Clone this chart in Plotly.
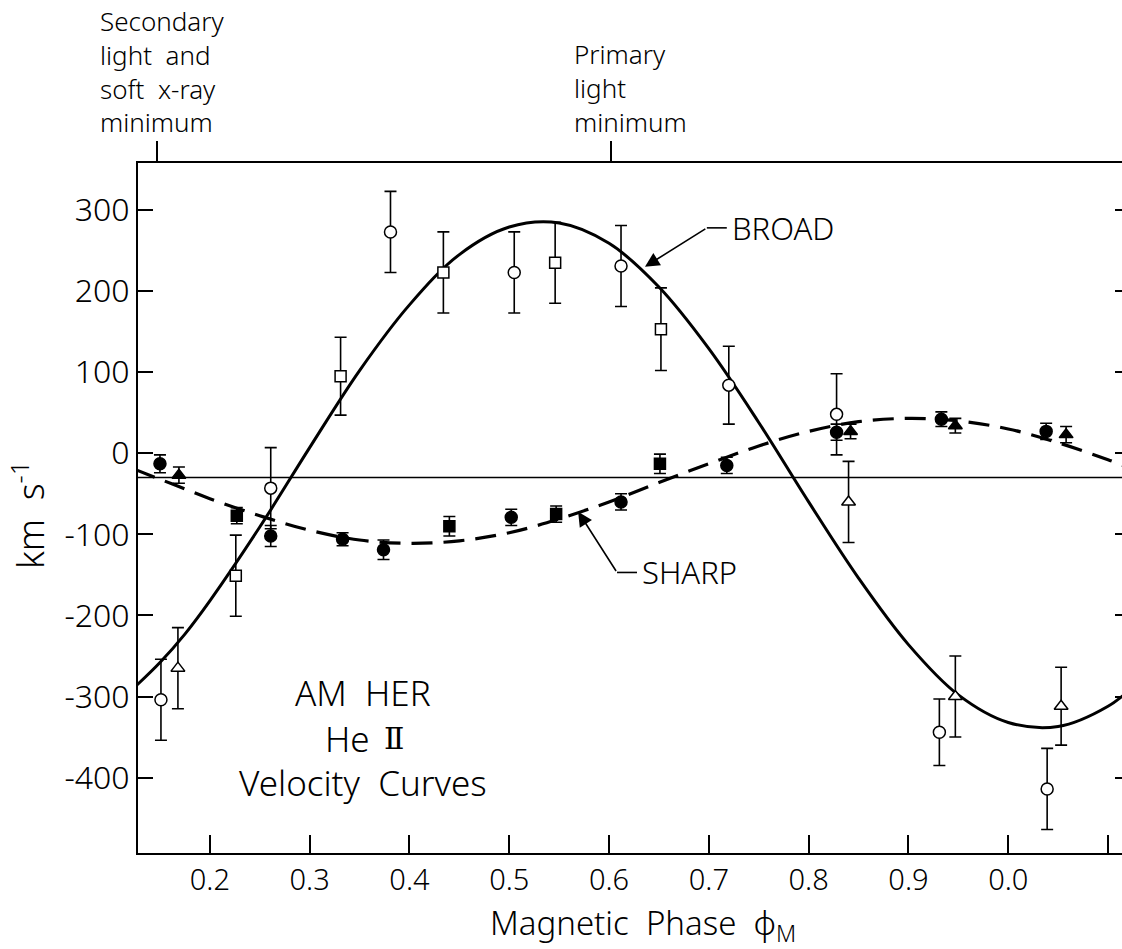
import plotly.graph_objects as go

# ---------------- data ----------------
# BROAD component (open symbols)
broad_circ_phase = [0.151, 0.261, 0.381, 0.505, 0.612, 0.720, 0.828, 0.931, 1.039]
broad_circ_vel = [-304, -43, 273, 223, 231, 84, 48, -344, -414]
broad_circ_err = [50, 50, 50, 50, 50, 48, 50, 41, 50]

broad_sq_phase = [0.226, 0.331, 0.434, 0.546, 0.652]
broad_sq_vel = [-151, 95, 223, 235, 153]
broad_sq_err = [50, 48, 50, 50, 51]

broad_tri_phase = [0.168, 0.840, 0.947, 1.053]
broad_tri_vel = [-265, -60, -300, -312]
broad_tri_err = [50, 50, 50, 48]

# SHARP component (filled symbols)
sharp_circ_phase = [0.150, 0.261, 0.333, 0.374, 0.502, 0.612, 0.718, 0.828, 0.933, 1.038]
sharp_circ_vel = [-13, -102, -106, -119, -79, -60, -15, 26, 42, 27]
sharp_circ_err = [11, 13, 8, 12, 10, 10, 10, 10, 9, 10]

sharp_sq_phase = [0.227, 0.440, 0.547, 0.651]
sharp_sq_vel = [-77, -90, -75, -13]
sharp_sq_err = [10, 12, 10, 12]

sharp_tri_phase = [0.169, 0.842, 0.947, 1.058]
sharp_tri_vel = [-27, 27, 34, 23]
sharp_tri_err = [10, 9, 9, 10]

# fitted curves
curve_phase = [0.125, 0.15, 0.175, 0.2, 0.25, 0.3, 0.35, 0.4, 0.45, 0.5, 0.55, 0.6,
               0.65, 0.7, 0.75, 0.8, 0.85, 0.9, 0.95, 1.0, 1.05, 1.1, 1.125]
broad_curve = [-288, -258, -223, -182, -91, 7, 102, 183, 245, 279, 284, 259,
               205, 129, 38, -60, -154, -236, -298, -332, -337, -312, -288]
sharp_curve = [-20, -32, -44, -56, -77, -95, -107, -111, -108, -98, -81, -60,
               -36, -13, 9, 27, 39, 43, 40, 30, 13, -8, -20]

gamma_velocity = -30

tick_phase = [0.2, 0.3, 0.4, 0.5, 0.6, 0.7, 0.8, 0.9, 1.0, 1.1]
tick_phase_text = ["0.2", "0.3", "0.4", "0.5", "0.6", "0.7", "0.8", "0.9", "0.0", "0.1"]
tick_vel = [300, 200, 100, 0, -100, -200, -300, -400]
tick_vel_text = ["300", "200", "100", "0", "-100", "-200", "-300", "-400"]
event_phase = [0.147, 0.602]   # secondary / primary light minimum markers

secondary_lines = ["Secondary", "light  and", "soft  x-ray", "minimum"]
primary_lines = ["Primary", "light", "minimum"]

# ---------------- layout geometry ----------------
W, H = 1122, 949
L, R, T, B = 138, 0, 163, 96
XR = [0.128, 1.114]
YR = [-493, 358]
FONT = "Noto Sans, DejaVu Sans, sans-serif"
WT = 300
INK = "black"


def px(xp):
    return (xp - L) / (W - L - R)


def py(yp):
    return (H - B - yp) / (H - B - T)


def f(size, family=FONT):
    return dict(family=family, size=size, color=INK, weight=WT)


fig = go.Figure()

# curves
fig.add_trace(go.Scatter(x=curve_phase, y=broad_curve, mode="lines", line_shape="spline",
                         line=dict(color=INK, width=3), hoverinfo="skip", showlegend=False))
fig.add_trace(go.Scatter(x=curve_phase, y=sharp_curve, mode="lines", line_shape="spline",
                         line=dict(color=INK, width=3.2, dash="21px,11px"), hoverinfo="skip",
                         showlegend=False))


def pts(xs, ys, es, symbol, size, filled):
    fig.add_trace(go.Scatter(
        x=xs, y=ys, mode="markers",
        error_y=dict(type="data", array=es, visible=True, color=INK, thickness=1.6, width=6),
        marker=dict(symbol=symbol, size=size,
                    color=INK if filled else "white",
                    line=dict(color=INK, width=1.5)),
        showlegend=False))


pts(broad_circ_phase, broad_circ_vel, broad_circ_err, "circle", 12, False)
pts(broad_sq_phase, broad_sq_vel, broad_sq_err, "square", 11, False)
pts(broad_tri_phase, broad_tri_vel, broad_tri_err, "triangle-up", 12, False)
pts(sharp_circ_phase, sharp_circ_vel, sharp_circ_err, "circle", 12, True)
pts(sharp_sq_phase, sharp_sq_vel, sharp_sq_err, "square", 11, True)
pts(sharp_tri_phase, sharp_tri_vel, sharp_tri_err, "triangle-up", 12, True)

# hidden trace so the auxiliary axes get drawn
fig.add_trace(go.Scatter(x=curve_phase, y=broad_curve, xaxis="x2", yaxis="y2", mode="markers",
                         marker=dict(opacity=0), hoverinfo="skip", showlegend=False))

# systemic velocity line
fig.add_hline(y=gamma_velocity, line=dict(color=INK, width=1.5))

# leader for BROAD
fig.add_annotation(x=0.636, y=230, ax=0.698, ay=278, axref="x", ayref="y", xref="x", yref="y",
                   text="", showarrow=True, arrowhead=2, arrowsize=1.8, arrowwidth=1.6,
                   arrowcolor=INK)
fig.add_shape(type="line", x0=0.698, x1=0.718, y0=278, y1=278, xref="x", yref="y",
              line=dict(color=INK, width=1.6))
fig.add_annotation(x=0.721, y=278, xref="x", yref="y", text="BROAD", showarrow=False,
                   xanchor="left", yanchor="middle", font=f(31))

# leader for SHARP
fig.add_annotation(x=0.569, y=-72, ax=0.608, ay=-147, axref="x", ayref="y", xref="x", yref="y",
                   text="", showarrow=True, arrowhead=2, arrowsize=1.8, arrowwidth=1.6,
                   arrowcolor=INK)
fig.add_shape(type="line", x0=0.608, x1=0.628, y0=-147, y1=-147, xref="x", yref="y",
              line=dict(color=INK, width=1.6))
fig.add_annotation(x=0.631, y=-147, xref="x", yref="y", text="SHARP", showarrow=False,
                   xanchor="left", yanchor="middle", font=f(31))

# labels inside
fig.add_annotation(x=px(363), y=py(692), xref="paper", yref="paper", text="AM  HER",
                   showarrow=False, xanchor="center", yanchor="middle", font=f(35))
fig.add_annotation(x=px(372), y=py(738), xref="paper", yref="paper", text="He",
                   showarrow=False, xanchor="right", yanchor="middle", font=f(35))
fig.add_annotation(x=px(382), y=py(738), xref="paper", yref="paper", text="Ⅱ",
                   showarrow=False, xanchor="left", yanchor="middle",
                   font=dict(family="DejaVu Serif", size=30, color=INK))
fig.add_annotation(x=px(363), y=py(782), xref="paper", yref="paper", text="Velocity  Curves",
                   showarrow=False, xanchor="center", yanchor="middle", font=f(35))

# top labels
fig.add_annotation(x=px(98), y=py(142), xref="paper", yref="paper",
                   text="<br>".join(secondary_lines), showarrow=False, align="left",
                   xanchor="left", yanchor="bottom", font=f(26))
fig.add_annotation(x=px(572), y=py(142), xref="paper", yref="paper",
                   text="<br>".join(primary_lines), showarrow=False, align="left",
                   xanchor="left", yanchor="bottom", font=f(26))

# axis titles
fig.add_annotation(x=px(643), y=py(924), xref="paper", yref="paper",
                   text="Magnetic  Phase  φ<sub>M</sub>", showarrow=False,
                   xanchor="center", yanchor="middle", font=f(33))
fig.add_annotation(x=px(28), y=py(515), xref="paper", yref="paper",
                   text="km  s<sup>-1</sup>", showarrow=False, textangle=-90,
                   xanchor="center", yanchor="middle", font=f(36))

fig.update_layout(
    width=W, height=H,
    margin=dict(l=L, r=R, t=T, b=B, pad=0),
    paper_bgcolor="white", plot_bgcolor="white",
    showlegend=False,
    font=dict(family=FONT, color=INK, weight=WT),
    xaxis=dict(range=XR, showgrid=False, zeroline=False, showline=True, linecolor=INK,
               linewidth=2, mirror=True, ticks="inside", ticklen=18, tickwidth=1.6,
               tickcolor=INK, tickvals=tick_phase, ticktext=tick_phase_text,
               tickfont=f(29)),
    yaxis=dict(range=YR, showgrid=False, zeroline=False, showline=True, linecolor=INK,
               linewidth=2, ticks="inside", ticklen=15, tickwidth=1.6, tickcolor=INK,
               tickvals=tick_vel, ticktext=tick_vel_text, tickfont=f(32)),
    xaxis2=dict(range=XR, overlaying="x", side="top", showgrid=False, zeroline=False,
                showline=False, ticks="outside", ticklen=21, tickwidth=1.6, tickcolor=INK,
                tickvals=event_phase, showticklabels=False),
    yaxis2=dict(range=YR, overlaying="y", side="right", showgrid=False, zeroline=False,
                showline=False, ticks="inside", ticklen=7, tickwidth=1.6, tickcolor=INK,
                tickvals=tick_vel, showticklabels=False),
)

fig.write_html(
    "out.html",
    config={"displayModeBar": False},
    post_script="document.body.style.margin='0';document.body.style.overflow='hidden';",
)
